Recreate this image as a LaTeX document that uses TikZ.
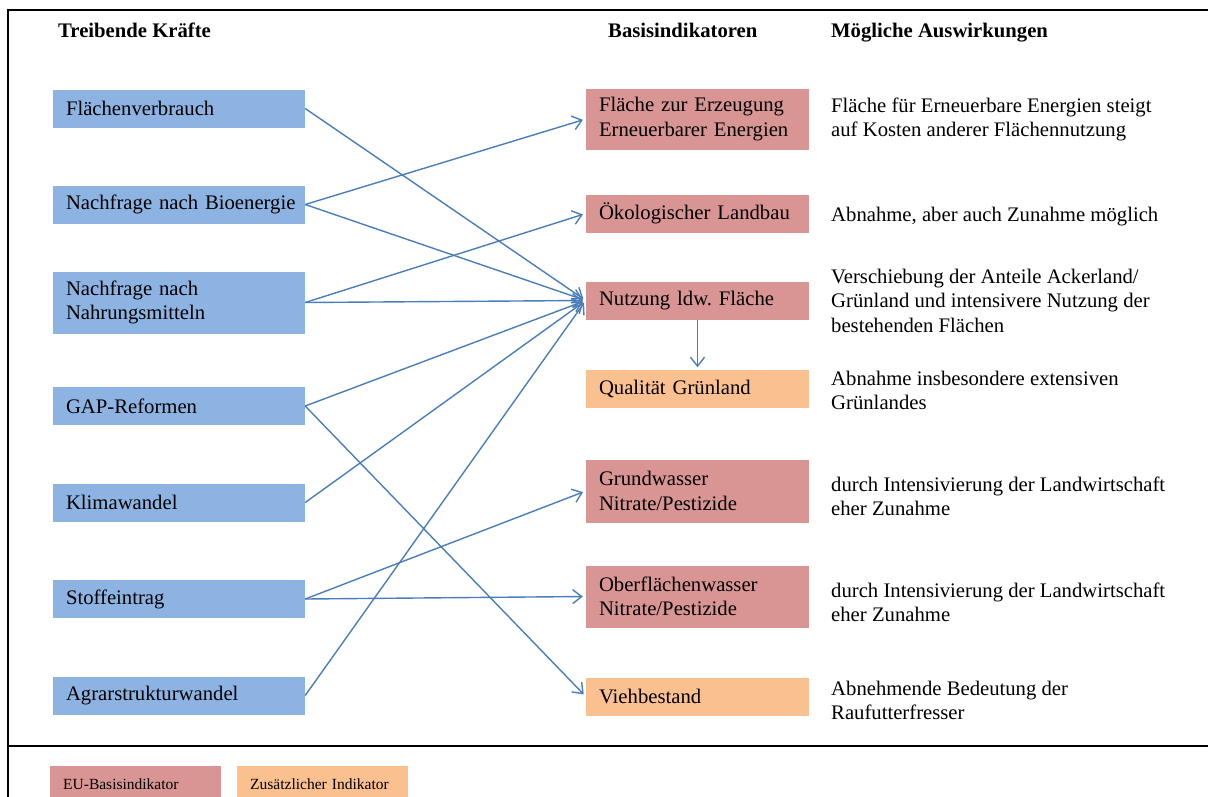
\documentclass[tikz,border=0pt]{standalone}
\usepackage{fontspec}
\setmainfont{Liberation Serif}
\usetikzlibrary{arrows.meta}
\definecolor{drvblue}{HTML}{8DB3E2}
\definecolor{eured}{HTML}{D99594}
\definecolor{addorange}{HTML}{FAC090}
\definecolor{arrowblue}{HTML}{4A7EBB}
\tikzset{
  txt/.style={font=\fontsize{20.7}{24.5}\selectfont\frenchspacing},
  driver/.style={txt, fill=drvblue, inner xsep=13pt, inner ysep=0pt, text width=226pt, minimum height=37pt, align=left},
  indi/.style={txt, inner xsep=13pt, inner ysep=0pt, text width=197pt, align=left},
  eubox/.style={indi, fill=eured},
  addbox/.style={indi, fill=addorange},
  effect/.style={txt, anchor=west, inner sep=0pt, align=left},
  header/.style={font=\fontsize{20.7}{24}\selectfont\bfseries, anchor=base west, inner sep=0pt},
  link/.style={draw=arrowblue, line width=1.4pt, -{Straight Barb[length=9pt,width=14pt,line width=1.4pt]}, shorten >=3pt},
  legendbox/.style={font=\fontsize{15.5}{18}\selectfont\frenchspacing, inner xsep=13pt, inner ysep=0pt, text width=145pt, minimum height=36pt, align=left, anchor=north west}
}
\begin{document}
\begin{tikzpicture}[x=1pt,y=-1pt]
\useasboundingbox (0,0) rectangle (1208,796);
\clip (0,0) rectangle (1208,796);
% frame
\draw[line width=2pt] (8,797) -- (8,10) -- (1210,10);
\draw[line width=1.5pt] (8,746) -- (1210,746);
% headers
\node[header] (h1) at (58,37) {Treibende Kräfte};
\node[header] (h2) at (608,37) {Basisindikatoren};
\node[header] (h3) at (831,37) {Mögliche Auswirkungen};
% drivers
\node[driver, minimum height=38pt] (d1) at (179,108.5) {Flächenverbrauch};
\node[driver, minimum height=38pt] (d2) at (179,204.5) {\makebox[0pt][l]{Nachfrage nach Bioenergie}};
\node[driver, minimum height=62pt] (d3) at (179,302.5) {Nachfrage nach\\Nahrungsmitteln};
\node[driver, minimum height=38pt] (d4) at (179,406) {GAP-Reformen};
\node[driver, minimum height=38pt] (d5) at (179,502.5) {Klimawandel};
\node[driver, minimum height=38pt] (d6) at (179,599) {Stoffeintrag};
\node[driver, minimum height=38pt] (d7) at (179,695.5) {Agrarstrukturwandel};
% indicators
\node[eubox, minimum height=61pt] (i1) at (697.5,119) {Fläche zur Erzeugung\\Erneuerbarer Energien};
\node[eubox, minimum height=38pt] (i2) at (697.5,213.5) {Ökologischer Landbau};
\node[eubox, minimum height=38pt] (i3) at (697.5,300.5) {Nutzung ldw. Fläche};
\node[addbox, minimum height=38pt] (i4) at (697.5,388.5) {Qualität Grünland};
\node[eubox, minimum height=63pt] (i5) at (697.5,491) {Grundwasser\\Nitrate/Pestizide};
\node[eubox, minimum height=62pt] (i6) at (697.5,596.5) {Oberflächenwasser\\Nitrate/Pestizide};
\node[addbox, minimum height=38pt] (i7) at (697.5,696.5) {Viehbestand};
% effects
\node[effect] (e1) at (831,119.5) {Fläche für Erneuerbare Energien steigt\\auf Kosten anderer Flächennutzung};
\node[effect] (e2) at (831,216.5) {Abnahme, aber auch Zunahme möglich};
\node[effect] (e3) at (831,300.5) {Verschiebung der Anteile Ackerland/\\Grünland und intensivere Nutzung der\\bestehenden Flächen};
\node[effect] (e4) at (831,390.5) {Abnahme insbesondere extensiven\\Grünlandes};
\node[effect] (e5) at (831,496.5) {durch Intensivierung der Landwirtschaft\\eher Zunahme};
\node[effect] (e6) at (831,602.5) {durch Intensivierung der Landwirtschaft\\eher Zunahme};
\node[effect] (e7) at (831,700.5) {Abnehmende Bedeutung der\\Raufutterfresser};
% connectors
\draw[link] (d1.east) -- (i3.west);
\draw[link] (d2.east) -- (i1.west);
\draw[link] (d2.east) -- (i3.west);
\draw[link] (d3.east) -- (i2.west);
\draw[link] (d3.east) -- (i3.west);
\draw[link] (d4.east) -- (i3.west);
\draw[link] (d4.east) -- (i7.west);
\draw[link] (d5.east) -- (i3.west);
\draw[link] (d6.east) -- (i5.west);
\draw[link] (d6.east) -- (i6.west);
\draw[link] (d7.east) -- (i3.west);
\draw[link, shorten >=2pt] (i3.south) -- (i4.north);
% legend
\node[legendbox, fill=eured] (l1) at (50,766) {EU-Basisindikator};
\node[legendbox, fill=addorange] (l2) at (237,766) {Zusätzlicher Indikator};
\end{tikzpicture}
\end{document}
